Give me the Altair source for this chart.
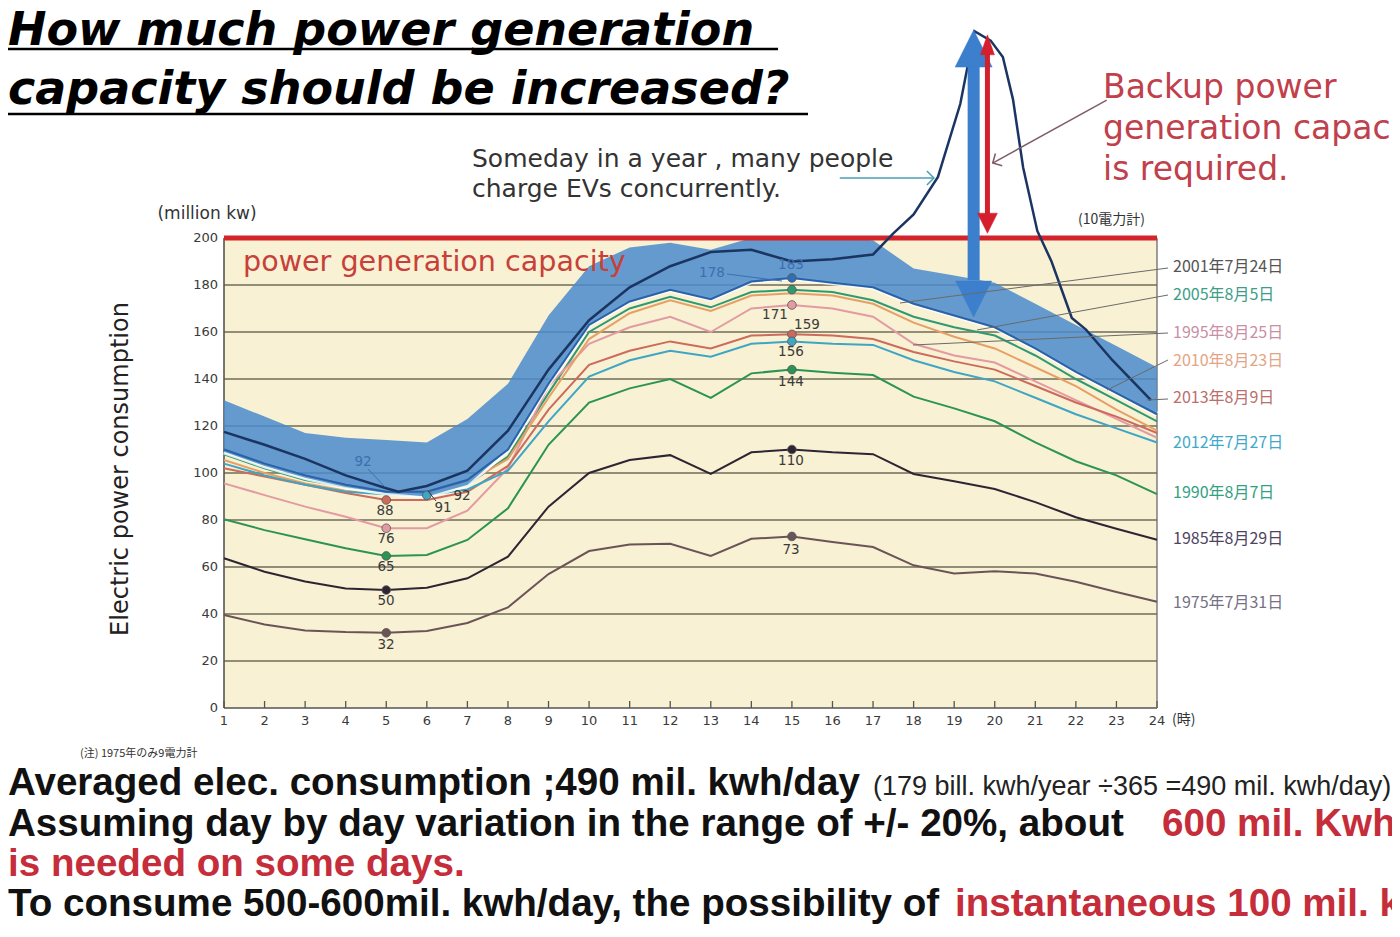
import altair as alt
import pandas as pd

# ---------------- data ----------------
hours = list(range(1, 25))

series_names = ["2001年7月24日", "2005年8月5日", "1995年8月25日", "2010年8月23日",
                "2013年8月9日", "2012年7月27日", "1990年8月7日", "1985年8月29日", "1975年7月31日"]

v2001 = [110, 104, 99, 95, 92, 92, 97, 110, 138, 163, 173, 178, 174, 181.5, 183, 181, 179, 172, 167, 162, 153, 143, 134, 125]
v2005 = [108, 102, 97, 94, 92, 91, 95, 107, 134, 160, 170, 175, 170.5, 177, 178, 177, 173.5, 166.5, 162, 158.5, 150, 140, 131, 122]
v1995 = [95.6, 90.6, 85.7, 81.4, 76.5, 76.5, 84, 102, 137, 155, 162, 166.5, 160, 170, 171.5, 170, 166.5, 155, 150, 147, 139, 131, 123, 115]
v2010 = [105.5, 100, 95.5, 92.5, 91, 92, 96, 106, 132, 157, 168, 173.5, 169, 175.5, 176.5, 175.5, 172, 164, 158, 153, 145, 137, 127, 118]
v2013 = [102, 98.5, 95, 91.5, 88.5, 88.5, 92, 103, 127, 146, 152, 156, 153, 158.5, 159, 158.5, 157, 151.5, 147.5, 144, 137, 130, 124, 117]
v2012 = [104, 99, 95, 92, 91, 90.5, 93, 101, 122, 141, 148, 152, 149.5, 155, 156, 155, 154.5, 148, 143, 139, 132, 125, 119, 113]
v1990 = [80.3, 75.7, 71.8, 68, 64.7, 65.1, 71.5, 85, 112, 130, 136, 140, 132, 142.4, 144, 142.7, 141.7, 132.5, 127.5, 122, 113, 105, 99, 91]
v1985 = [63.7, 58, 53.8, 50.9, 50.2, 51.2, 55.2, 64.4, 85.7, 100, 105.5, 107.6, 99.6, 108.8, 110, 108.8, 108, 99.6, 96.5, 93.2, 87.6, 81.2, 76.3, 71.6]
v1975 = [39.6, 35.5, 33, 32.3, 32, 32.8, 36.2, 42.8, 57, 66.8, 69.6, 69.9, 64.7, 72, 73, 70.6, 68.5, 60.7, 57.2, 58.2, 57.2, 53.7, 49.4, 45.2]
series_values = [v2001, v2005, v1995, v2010, v2013, v2012, v1990, v1985, v1975]

# hypothetical EV-charging day (hand drawn curve)
ev_hours = [1, 2, 3, 4, 5, 5.3, 6, 7, 8, 9, 10, 11, 12, 13, 14, 15, 16, 17, 17.5, 18, 18.6,
            19.15, 19.5, 19.9, 20.2, 20.45, 20.7, 21.05, 21.4, 21.9, 22.25, 22.9, 23.85]
ev_values = [117.5, 112, 106, 99, 93.5, 92, 94.5, 101, 118, 144, 165, 179, 188, 194, 195, 190, 191, 193, 202, 210, 226,
             257, 288, 284, 277, 259, 230, 203, 190, 166, 161, 148, 131]

# day-by-day variation band
band_upper = [131, 124, 117, 115, 114, 113, 123, 138, 167, 188, 196, 198, 195, 200, 200, 200, 199, 187, 184, 181, 172, 163, 154, 145]
band_lower = [109, 103, 98, 94, 91.5, 90, 95, 110, 138, 163, 173, 178, 174, 181.5, 183, 181, 179, 172, 167, 162, 153, 143, 134, 125]

capacity = 200
x_ticks = list(range(1, 25))
y_ticks = list(range(0, 201, 20))
grid_values = list(range(20, 181, 20))

# ---------------- styling ----------------
line_colors = ["#2f6fb8", "#2f9a72", "#e39aa3", "#e6a066", "#cc6a5c", "#3ea6c4", "#2b9455", "#2e2533", "#6b5457"]
label_colors = ["#555555", "#3d9d86", "#c98fa5", "#e3a585", "#b9706c", "#3fa9c9", "#34a183", "#4e4460", "#767184"]

W, H = 933, 470
X0, Y0 = 224, 238  # page position of the plot origin
TOTAL_W, TOTAL_H = 1384, 919

xs = alt.Scale(domain=[1, 24], nice=False, zero=False)
ys = alt.Scale(domain=[0, 200], nice=False, zero=False)


def X(field):
    return alt.X(field, type="quantitative", scale=xs, axis=None)


def Y(field):
    return alt.Y(field, type="quantitative", scale=ys, axis=None)


def one():
    return pd.DataFrame({"t": [""]})


def text_px(text, x, y, size, color, font="DejaVu Sans", align="left", baseline="alphabetic",
            weight="normal", style="normal", angle=None):
    kw = dict(align=align, baseline=baseline, font=font, fontSize=size, color=color,
              fontWeight=weight, fontStyle=style)
    if angle is not None:
        kw["angle"] = angle
    return alt.Chart(pd.DataFrame({"t": [text]})).mark_text(**kw).encode(
        text="t:N", x=alt.value(x - X0), y=alt.value(y - Y0))


def seg_px(x1, y1, x2, y2, color, width):
    return alt.Chart(one()).mark_rule(color=color, strokeWidth=width).encode(
        x=alt.value(x1 - X0), y=alt.value(y1 - Y0), x2=alt.value(x2 - X0), y2=alt.value(y2 - Y0))


def seg_data(h1, v1, h2, v2, color, width):
    d = pd.DataFrame({"h": [h1], "v": [v1], "h2": [h2], "v2": [v2]})
    return alt.Chart(d).mark_rule(color=color, strokeWidth=width).encode(
        x=X("h"), y=Y("v"), x2="h2:Q", y2="v2:Q")


def head(h, v, shape, size, color, filled=True, angle=None, sw=1.5):
    d = pd.DataFrame({"h": [h], "v": [v]})
    kw = dict(shape=shape, size=size, filled=filled, opacity=1)
    if filled:
        kw.update(fill=color, stroke=color, strokeWidth=0.5)
    else:
        kw.update(stroke=color, strokeWidth=sw)
    if angle is not None:
        kw["angle"] = angle
    return alt.Chart(d).mark_point(**kw).encode(x=X("h"), y=Y("v"))


# ---------------- tables ----------------
rows = []
for name, vals in zip(series_names, series_values):
    for h, v in zip(hours, vals):
        rows.append({"hour": h, "value": v, "series": name})
df_lines = pd.DataFrame(rows)

df_band = pd.DataFrame({"hour": hours, "upper": band_upper, "lower": band_lower})
df_ev = pd.DataFrame({"hour": ev_hours, "value": ev_values})
df_grid = pd.DataFrame({"value": grid_values})
df_ticks = pd.DataFrame({"hour": x_ticks, "label": [str(h) for h in x_ticks]})
df_yticks = pd.DataFrame({"value": y_ticks, "label": [str(v) for v in y_ticks]})
df_bg = pd.DataFrame({"x1": [1], "x2": [24], "y1": [0], "y2": [capacity]})

# dots at the daily peak (15h) and minimum (5h / 6h)
dot_rows = []
for name, vals in zip(series_names, series_values):
    if name != "2010年8月23日":
        dot_rows.append({"hour": 15, "value": vals[14], "series": name})
for name in ["2013年8月9日", "1995年8月25日", "1990年8月7日", "1985年8月29日", "1975年7月31日"]:
    vals = series_values[series_names.index(name)]
    dot_rows.append({"hour": 5, "value": vals[4], "series": name})
dot_rows.append({"hour": 6, "value": v2012[5], "series": "2012年7月27日"})
df_dots = pd.DataFrame(dot_rows)

color_scale = alt.Scale(domain=series_names, range=line_colors)

layers = []

# beige plot background
layers.append(alt.Chart(df_bg).mark_rect(color="#f8f1d3").encode(
    x=X("x1"), x2="x2:Q", y=Y("y1"), y2="y2:Q"))

# horizontal grid lines
layers.append(alt.Chart(df_grid).mark_rule(color="#716b58", strokeWidth=1.3).encode(
    y=Y("value"), x=alt.value(0), x2=alt.value(W)))

# axes drawn from the tick lists
layers.append(alt.Chart(df_ticks).mark_rule(color="#555555", strokeWidth=1.3).encode(
    x=X("hour"), y=alt.value(H), y2=alt.value(H - 7)))
layers.append(alt.Chart(df_ticks).mark_text(font="DejaVu Sans", fontSize=13, color="#3a3a3a",
                                            align="center", baseline="middle").encode(
    x=X("hour"), y=alt.value(H + 13), text="label:N"))
layers.append(alt.Chart(df_yticks).mark_text(font="DejaVu Sans", fontSize=13, color="#3a3a3a",
                                             align="right", baseline="middle").encode(
    y=Y("value"), x=alt.value(-6), text="label:N"))
layers.append(alt.Chart(one()).mark_rule(color="#555555", strokeWidth=1.6).encode(
    x=alt.value(0), x2=alt.value(W), y=alt.value(H)))
layers.append(alt.Chart(one()).mark_rule(color="#555555", strokeWidth=1.6).encode(
    x=alt.value(0), y=alt.value(0), y2=alt.value(H)))
layers.append(alt.Chart(one()).mark_rule(color="#6a6a6a", strokeWidth=1.3).encode(
    x=alt.value(W), y=alt.value(0), y2=alt.value(H)))

# daily load curves
layers.append(alt.Chart(df_lines).mark_line(strokeWidth=2).encode(
    x=X("hour"), y=Y("value"),
    color=alt.Color("series:N", scale=color_scale, legend=None),
    order=alt.Order("hour:Q")))

# white halo + variation band
layers.append(alt.Chart(df_band).mark_line(color="white", strokeWidth=5, opacity=0.8).encode(
    x=X("hour"), y=Y("lower")))
layers.append(alt.Chart(df_band).mark_area(color="#4a8bcb", opacity=0.85).encode(
    x=X("hour"), y=Y("upper"), y2="lower:Q"))

# 2001 line visible through the band
df_2001 = pd.DataFrame({"hour": hours, "value": v2001})
layers.append(alt.Chart(df_2001).mark_line(color="#2a62a8", strokeWidth=2).encode(
    x=X("hour"), y=Y("value")))

# dots
layers.append(alt.Chart(df_dots).mark_circle(size=75, opacity=1, stroke="#555555", strokeWidth=0.8).encode(
    x=X("hour"), y=Y("value"), color=alt.Color("series:N", scale=color_scale, legend=None)))

# capacity line
layers.append(alt.Chart(pd.DataFrame({"v": [capacity], "a": [1], "b": [24]})).mark_rule(
    color="#d3242b", strokeWidth=5).encode(y=Y("v"), x=X("a"), x2="b:Q"))

# EV charging curve
layers.append(alt.Chart(df_ev).mark_line(color="#1b3563", strokeWidth=2.5).encode(
    x=X("hour"), y=Y("value")))

# blue double arrow (band)
blue = "#3c7fcd"
layers.append(seg_data(19.48, 273, 19.48, 182, blue, 12))
layers.append(head(19.48, 280.6, "M 0 -1 L 1 1 L -1 1 Z", 1369, blue))
layers.append(head(19.48, 174.0, "M -1 -1 L 1 -1 L 0 1 Z", 1296, blue))

# red double arrow (backup capacity)
red = "#d4202c"
layers.append(seg_data(19.82, 279, 19.82, 208, red, 5))
layers.append(head(19.82, 282.2, "M 0 -1 L 0.7 1 L -0.7 1 Z", 400, red))
layers.append(head(19.82, 206.3, "M -1 -1 L 1 -1 L 0 1 Z", 400, red))

# annotation arrows
layers.append(seg_data(16.18, 225.5, 18.5, 225.5, "#4a9fb5", 1.5))
layers.append(head(18.5, 225.5, "M -1 -1 L 0 0 L -1 1", 196, "#4a9fb5", filled=False))
layers.append(seg_data(22.76, 258.7, 19.95, 231.9, "#7e5c68", 1.5))
layers.append(head(19.95, 231.9, "M 1 -1 L 0 0 L 1 1", 196, "#7e5c68", filled=False, angle=331))

# legend leaders and labels
leaders = [(1168, 268, 900, 303), (1168, 295, 977, 330), (1168, 333, 913, 345),
           (1168, 360, 1107, 390), (1168, 399, 1147, 400)]
for (a, b, c, d) in leaders:
    layers.append(seg_px(a, b, c, d, "#6a6a6a", 1))
label_y = [267, 295, 333, 361, 398, 443, 493, 539, 603]
for name, col, yy in zip(series_names, label_colors, label_y):
    layers.append(text_px(name, 1173, yy, 16, col, font="Noto Sans CJK JP", baseline="middle"))

# data labels
dlab = [("92", 363, 462, "#3d6fae"), ("88", 385, 511, "#3b3b3b"), ("91", 443, 508, "#3b3b3b"),
        ("92", 462, 496, "#3b3b3b"), ("76", 386, 539, "#3b3b3b"), ("65", 386, 567, "#3b3b3b"),
        ("50", 386, 601, "#3b3b3b"), ("32", 386, 645, "#3b3b3b"), ("178", 712, 273, "#3d6fae"),
        ("183", 791, 265, "#3d6fae"), ("171", 775, 315, "#3b3b3b"), ("159", 807, 325, "#3b3b3b"),
        ("156", 791, 352, "#3b3b3b"), ("144", 791, 382, "#3b3b3b"), ("110", 791, 461, "#3b3b3b"),
        ("73", 791, 550, "#3b3b3b")]
for (t, x, y, c) in dlab:
    layers.append(text_px(t, x, y, 13.5, c, align="center", baseline="middle"))
layers.append(seg_px(368, 469, 385, 487, "#3d6fae", 1))
layers.append(seg_px(436, 501, 428, 491, "#3b3b3b", 1))
layers.append(seg_px(727, 274, 782, 281, "#3d6fae", 1))

# chart texts
layers.append(text_px("power generation capacity", 243, 271, 28.6, "#c8403a"))
layers.append(text_px("Someday in a year , many people", 472, 167, 25, "#333333"))
layers.append(text_px("charge EVs concurrently.", 472, 197, 25, "#333333"))
layers.append(text_px("Backup power", 1103, 98, 33, "#c0404c"))
layers.append(text_px("generation capacity", 1103, 139, 33, "#c0404c"))
layers.append(text_px("is required.", 1103, 180, 33, "#c0404c"))
layers.append(text_px("(million kw)", 207, 219, 17, "#333333", align="center"))
layers.append(text_px("(10電力計)", 1078, 220, 14, "#333333", font="Noto Sans CJK JP", baseline="middle"))
layers.append(text_px("(時)", 1172, 720, 14, "#333333", font="Noto Sans CJK JP", baseline="middle"))
layers.append(text_px("Electric power consumption", 121, 469, 24, "#222222", align="center",
                      baseline="middle", angle=270))

# title
layers.append(text_px("How much power generation", 8, 45, 46, "#000000", weight="bold", style="italic"))
layers.append(text_px("capacity should be increased?", 8, 104, 46, "#000000", weight="bold", style="italic"))
layers.append(seg_px(8, 49, 778, 49, "#000000", 2.5))
layers.append(seg_px(8, 114, 808, 114, "#000000", 2.5))

# bottom notes
red_txt = "#c62d3a"
FS = 38.6
layers.append(text_px("(注) 1975年のみ9電力計", 80, 754, 11, "#333333", font="Noto Sans CJK JP", baseline="middle"))
layers.append(text_px("Averaged elec. consumption ;490 mil. kwh/day", 8, 795, FS, "#111111",
                      font="Liberation Sans", weight="bold"))
layers.append(text_px("(179 bill. kwh/year ÷365 =490 mil. kwh/day)", 873, 795, 27, "#222222", font="Liberation Sans"))
layers.append(text_px("Assuming day by day variation in the range of +/- 20%,  about", 8, 836, FS, "#111111",
                      font="Liberation Sans", weight="bold"))
layers.append(text_px("600 mil. Kwh", 1162, 836, FS, red_txt, font="Liberation Sans", weight="bold"))
layers.append(text_px("is needed on some days.", 8, 876, FS, red_txt, font="Liberation Sans", weight="bold"))
layers.append(text_px("To consume 500-600mil. kwh/day, the possibility of", 8, 916, FS, "#111111",
                      font="Liberation Sans", weight="bold"))
layers.append(text_px("instantaneous 100 mil. kw", 955, 916, FS, red_txt, font="Liberation Sans", weight="bold"))

chart = alt.layer(*layers).properties(
    width=W, height=H,
    autosize=alt.AutoSizeParams(type="none"),
    padding={"left": X0 - 8, "top": Y0 - 8, "right": TOTAL_W - (X0 - 8) - W,
             "bottom": TOTAL_H - (Y0 - 8) - H},
    background="white",
).configure_view(stroke=None)

chart.save("out.html", embed_options={"renderer": "svg", "actions": False})
